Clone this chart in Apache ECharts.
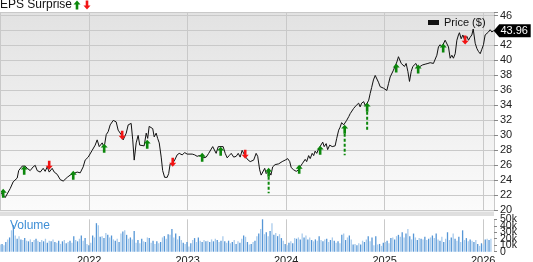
<!DOCTYPE html>
<html><head><meta charset="utf-8">
<script src="https://cdn.jsdelivr.net/npm/echarts@6/dist/echarts.min.js"></script>
<style>html,body{margin:0;padding:0;background:#fff}#c{width:533px;height:262px}</style>
</head><body><div id="c"></div>
<script>
// ---- data (dates as decimal years) ----
const priceDates = [
2021.096,2021.147,2021.198,2021.228,2021.269,2021.284,2021.320,2021.350,2021.371,2021.401,2021.431,2021.452,2021.472,2021.503,2021.533,2021.553,2021.574,2021.594,2021.624,2021.645,2021.675,2021.706,2021.736,2021.777,2021.807,2021.838,2021.878,2021.909,2021.939,2021.959,2021.990,
2022.030,2022.061,2022.081,2022.102,2022.132,2022.152,2022.173,2022.193,2022.213,2022.244,2022.274,2022.294,2022.325,2022.345,2022.376,2022.396,2022.426,2022.442,2022.457,2022.477,2022.497,2022.513,2022.528,2022.558,2022.579,2022.594,2022.609,2022.629,2022.645,2022.660,2022.680,2022.695,2022.711,2022.731,2022.746,2022.766,2022.792,2022.807,2022.822,2022.848,2022.868,2022.893,2022.914,2022.944,2022.970,2022.995,
2023.015,2023.046,2023.071,2023.096,2023.117,2023.142,2023.162,2023.188,2023.213,2023.228,2023.254,2023.274,2023.289,2023.310,2023.330,2023.360,2023.381,2023.401,2023.421,2023.442,2023.467,2023.492,2023.513,2023.533,2023.553,2023.569,2023.589,2023.614,2023.635,2023.670,2023.695,2023.711,2023.731,2023.746,2023.766,2023.782,2023.797,2023.822,2023.845,2023.863,2023.888,2023.924,2023.959,2023.990,
2024.015,2024.036,2024.051,2024.076,2024.102,2024.127,2024.142,2024.162,2024.178,2024.193,2024.208,2024.228,2024.244,2024.264,2024.279,2024.294,2024.310,2024.330,2024.350,2024.371,2024.386,2024.406,2024.421,2024.442,2024.467,2024.497,2024.513,2024.533,2024.548,2024.563,2024.584,2024.599,2024.614,2024.635,2024.650,2024.670,2024.685,2024.711,2024.736,2024.751,2024.766,2024.787,2024.802,2024.822,2024.838,2024.853,2024.868,2024.886,2024.904,2024.919,2024.937,2024.954,2024.970,2024.988,
2025.005,2025.022,2025.039,2025.056,2025.073,2025.089,2025.107,2025.124,2025.140,2025.150,2025.168,2025.185,2025.201,2025.218,2025.236,2025.252,2025.269,2025.286,2025.303,2025.317,2025.337,2025.360,2025.384,2025.411,2025.439,2025.462,2025.479,2025.495,2025.513,2025.530,2025.546,2025.563,2025.581,2025.597,2025.614,2025.631,2025.648,2025.665,2025.682,2025.698,2025.716,2025.733,2025.749,2025.759,2025.777,2025.794,2025.810,2025.835,2025.851,2025.868,2025.885,2025.899,2025.919,2025.936,2025.952,2025.970,2025.987,
2026.003,2026.020,2026.038,2026.054,2026.071,2026.088,2026.107];
const priceValues = [
22.4,21.7,22.9,23.8,24.3,25.3,25.9,25.9,25.6,25.3,25.8,26.0,25.3,25.1,25.6,25.2,25.8,25.1,25.6,25.1,24.8,24.1,23.9,24.4,24.7,24.9,25.1,25.0,25.8,26.7,27.1,
28.0,28.7,29.4,28.5,29.0,28.4,30.1,30.5,31.4,32.0,31.8,30.7,30.1,29.4,30.3,31.4,31.6,29.4,26.7,29.0,30.0,28.7,28.5,28.6,30.3,29.6,31.2,31.4,30.9,29.8,30.3,29.6,29.0,27.1,25.3,24.4,24.4,24.9,26.2,26.3,26.7,27.4,27.6,27.4,27.7,27.5,
27.7,27.5,27.4,27.2,27.3,27.3,27.0,27.1,27.6,27.4,28.5,28.4,27.6,28.5,28.3,28.5,27.6,27.0,27.3,27.6,27.1,27.2,27.6,27.1,28.0,27.8,27.1,26.7,26.5,26.7,27.6,27.2,25.4,24.7,24.5,25.6,24.9,25.3,24.7,25.8,26.1,26.2,26.5,26.7,
26.9,26.5,25.7,25.4,25.2,25.4,25.8,26.2,26.0,26.8,26.5,27.3,26.9,27.6,27.3,27.9,27.6,28.2,28.4,29.1,28.5,28.9,28.1,28.7,28.5,28.6,29.6,30.7,31.1,31.7,31.4,31.6,32.0,32.5,32.9,33.1,33.6,34.0,34.3,33.8,34.3,34.5,34.0,34.3,34.7,35.6,36.4,37.4,38.0,37.8,37.1,36.5,36.7,36.3,
36.5,36.0,36.9,37.8,38.0,38.7,38.9,39.8,40.5,40.7,39.6,39.8,39.2,39.6,38.5,37.2,38.5,39.2,39.0,39.6,39.0,39.2,39.4,39.5,39.6,39.7,39.8,39.6,39.8,40.7,41.8,42.1,41.8,41.6,42.7,42.5,41.8,40.3,40.7,40.3,40.9,42.7,43.4,43.7,42.9,43.4,42.8,43.2,42.7,43.1,43.4,44.2,42.3,41.6,41.2,40.9,41.5,
42.1,43.4,43.6,43.8,44.1,43.8,43.96];

// weekly volume, thousands of shares
const volumeStart = 2021.096;
const weeksPerYear = 52.18;
const volumeValues = [
11,12,10,15,19,22,33,41,25,20,
24,19,18,21,17,16,19,15,18,20,
17,15,18,16,20,14,17,16,19,15,
14,17,12,16,18,13,15,17,14,24,
18,16,20,25,17,21,12,10,14,25,
22,44,41,23,24,21,29,26,22,25,
19,17,20,15,28,31,33,26,20,22,
19,32,14,18,13,20,16,15,22,21,
14,17,12,16,13,15,22,24,20,27,
26,35,22,28,19,24,18,14,12,15,
8,13,18,21,15,22,17,15,18,16,
17,15,19,16,20,18,15,17,24,16,
14,17,13,15,18,12,16,14,20,25,
23,15,11,12,15,17,24,28,35,50,
27,30,24,32,44,26,29,24,27,21,
17,12,10,14,16,13,21,20,22,19,
28,22,25,19,22,18,16,19,17,24,
18,16,19,20,15,18,22,17,14,16,
13,26,28,18,22,25,19,11,12,10,
13,11,17,15,19,24,16,22,10,24,
11,12,9,14,15,17,13,21,22,19,
24,26,23,30,22,28,35,24,19,28,
22,18,21,20,19,23,18,20,22,25,
21,28,19,17,23,15,20,30,18,22,
28,20,17,23,15,33,18,21,16,19,
17,15,18,12,9,13,11,19,20,18,20];

// earnings surprises
const epsDates  = [2021.127,2021.340,2021.594,2021.838,2022.152,2022.335,2022.589,2022.848,2023.147,2023.335,2023.584,2023.822,2024.132,2024.345,2024.594,2024.822,2025.117,2025.340,2025.594,2025.817];
const epsPrices = [22.27,25.35,26.01,24.68,28.29,30.02,28.82,26.41,27.08,27.89,27.48,25.08,25.48,28.02,30.83,33.77,38.98,38.85,41.66,42.72];
const epsTypes  = ['beat','beat','miss','beat','beat','miss','beat','miss','beat','beat','miss','beat','beat','beat','beat','beat','beat','beat','beat','miss'];
const epsStemEnds = [null,null,null,null,null,null,null,null,null,null,null,22.27,null,null,27.35,30.56,null,null,null,null];

const lastPrice = 43.96;
const yearLabels = ['2022','2023','2024','2025','2026'];
// volume tick labels (thousands): shown from three staggered label axes
const volumeTickSets = [[0, 30], [10, 40], [20, 50]];
const volumeMax = 50;

// ---- styling ----
const GREEN = '#0b870b', RED = '#f21414', GRID = '#c9c9c9';
const FONT = '"Liberation Sans", Arial, sans-serif';

function arrowPts(cx, cy, up) {
  const s = up ? 1 : -1;
  const pts = [[0,-4.5],[3.5,-0.6],[1.3,-0.6],[1.3,4.5],[-1.3,4.5],[-1.3,-0.6],[-3.5,-0.6]];
  return pts.map(p => [cx + p[0], cy + s * p[1]]);
}

const priceData = priceDates.map((d, i) => [d, priceValues[i]]);
const volumeData = volumeValues.map((v, i) => [volumeStart + i / weeksPerYear, v]);
const epsData = epsDates.map((d, i) => [d, epsPrices[i], epsStemEnds[i] == null ? 0 : epsStemEnds[i], epsTypes[i] === 'beat' ? 1 : 0]);
const last = priceData.length - 1;

// volume panel geometry
const VOL_TOP = 219.3, VOL_H = 32.4, VOL_BOTTOM = VOL_TOP + VOL_H;
const volGrids = volumeTickSets.map(set => {
  const lo = set[0];
  const h = VOL_H * (volumeMax - lo) / volumeMax;
  return {left: -9.3, right: 39, top: VOL_TOP, height: h, outerBoundsMode: 'none', containLabel: false};
});
const volXAxes = volumeTickSets.map((set, k) => ({
  type: 'value', gridIndex: 1 + k, min: 2021, max: 2026.11, interval: 1,
  axisLine: {show: false}, axisTick: {show: false},
  axisLabel: k === 0 ? {show: true, fontSize: 11, color: '#222', margin: 4, fontFamily: FONT,
      formatter: v => { const s = String(v); return yearLabels.includes(s) ? s : ''; }} : {show: false},
  splitLine: {show: k === 0, lineStyle: {color: GRID, width: 1}}
}));
const volYAxes = volumeTickSets.map((set, k) => ({
  type: 'value', gridIndex: 1 + k, position: 'right', min: set[0], max: volumeMax, interval: set[1] - set[0],
  axisLine: {show: false},
  axisTick: {show: true, length: 3, lineStyle: {color: '#888'}},
  axisLabel: {fontSize: 10.5, color: '#222', margin: 6, fontFamily: FONT,
    formatter: v => set.includes(v) ? (v === 0 ? '0' : v + 'k') : ''},
  splitLine: {show: false}
}));

const chart = echarts.init(document.getElementById('c'), null, {renderer: 'canvas'});
chart.setOption({
  animation: false,
  textStyle: {fontFamily: FONT},
  title: [
    {text: 'EPS Surprise', left: 0, top: -1, padding: 0,
     textStyle: {fontSize: 12, fontWeight: 'normal', color: '#111', fontFamily: FONT}},
    {text: 'Volume', left: 10, top: 220, padding: 0,
     textStyle: {fontSize: 12, fontWeight: 'normal', color: '#3f8fd6', fontFamily: FONT}}
  ],
  legend: {
    data: [{name: 'Price ($)', icon: 'rect'}],
    left: 428, top: 17, padding: 0, itemWidth: 11, itemHeight: 5, itemGap: 5,
    textStyle: {fontSize: 11, color: '#111', fontFamily: FONT}
  },
  graphic: [
    {type: 'rect', left: 0, top: 211.5, shape: {width: 494, height: 4.5}, style: {fill: '#dfdfdf'}, z: 1},
    {type: 'polygon', shape: {points: arrowPts(77, 5, true)}, style: {fill: GREEN}},
    {type: 'polygon', shape: {points: arrowPts(87, 5, false)}, style: {fill: RED}}
  ],
  grid: [
    {left: -9.3, right: 39, top: 12, height: 198.3, show: true, borderWidth: 0,
     outerBoundsMode: 'none', containLabel: false,
     backgroundColor: new echarts.graphic.LinearGradient(0, 0, 0, 1, [
       {offset: 0, color: '#e2e2e2'}, {offset: 1, color: '#fbfbfb'}])}
  ].concat(volGrids),
  xAxis: [
    {type: 'value', gridIndex: 0, min: 2021, max: 2026.11, interval: 1,
     axisLine: {show: false}, axisTick: {show: false}, axisLabel: {show: false},
     splitLine: {show: true, lineStyle: {color: GRID, width: 1}}}
  ].concat(volXAxes),
  yAxis: [
    {type: 'value', gridIndex: 0, position: 'right', min: 20, max: 46.467, interval: 2,
     axisLine: {show: false},
     axisTick: {show: true, length: 4, lineStyle: {color: '#888'}},
     axisLabel: {fontSize: 11, color: '#222', margin: 6, fontFamily: FONT,
       formatter: v => Number.isInteger(v) ? String(v) : ''},
     splitLine: {show: true, lineStyle: {color: GRID, width: 1}}}
  ].concat(volYAxes),
  series: [
    {name: 'Price ($)', type: 'line', xAxisIndex: 0, yAxisIndex: 0, data: priceData,
     showSymbol: false, symbol: 'none', z: 3,
     lineStyle: {color: '#111', width: 1}, itemStyle: {color: '#111'},
     markLine: {silent: true, symbol: ['none', 'none'], label: {show: false},
       lineStyle: {color: GRID, type: 'solid', width: 1},
       data: [{xAxis: priceDates[0]}]},
     markPoint: {
       symbol: 'path://M0,6 L6,0 L40,0 L40,12 L6,12 Z', symbolKeepAspect: false,
       symbolSize: [37, 13], symbolOffset: [18.5, 0],
       itemStyle: {color: '#000'},
       label: {show: true, position: 'inside', color: '#fff', fontSize: 11, fontFamily: FONT,
         offset: [2, 0], formatter: () => lastPrice.toFixed(2)},
       data: [{coord: priceData[last], value: lastPrice}]
     }},
    {name: 'EPS', type: 'custom', xAxisIndex: 0, yAxisIndex: 0, data: epsData, z: 4,
     encode: {x: 0, y: 1},
     renderItem: (params, api) => {
       const t = api.value(0), p = api.value(1), stem = api.value(2), up = api.value(3) === 1;
       const c = api.coord([t, p]);
       const children = [];
       if (stem > 0) {
         const e = api.coord([t, stem]);
         children.push({type: 'line', shape: {x1: c[0], y1: c[1] + 4.5, x2: e[0], y2: e[1]},
           style: {stroke: GREEN, lineWidth: 2, lineDash: [3, 2]}});
       }
       children.push({type: 'polygon', shape: {points: arrowPts(c[0], c[1], up)},
         style: {fill: up ? GREEN : RED}});
       return {type: 'group', children};
     }},
    {name: 'Volume', type: 'bar', xAxisIndex: 1, yAxisIndex: 1, data: volumeData,
     barWidth: 1.3, barGap: '0%',
     itemStyle: {color: p => p.dataIndex % 2 ? '#5596d6' : '#a9cbec'}}
  ]
});
</script></body></html>
